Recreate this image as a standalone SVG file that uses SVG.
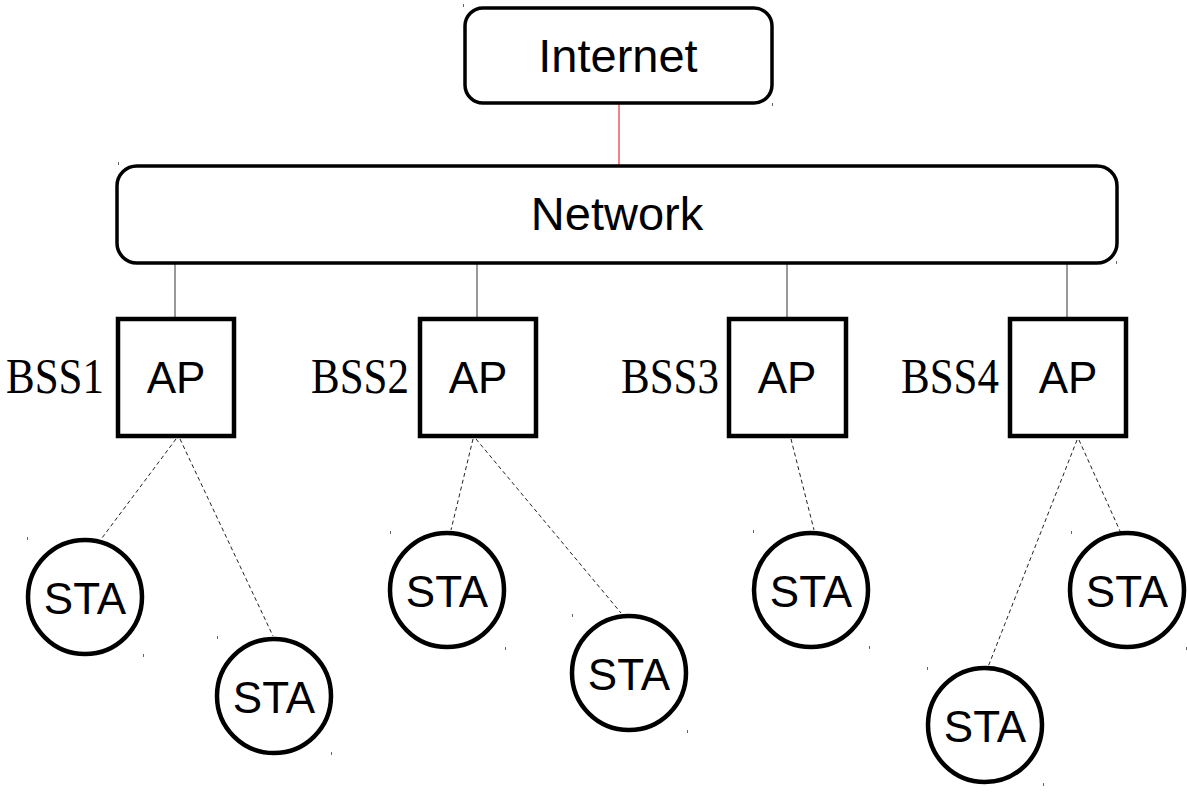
<svg xmlns="http://www.w3.org/2000/svg" width="1187" height="793" viewBox="0 0 1187 793">
<style>
.box{fill:#fff;stroke:#000;stroke-width:3.5}
.ap{fill:#fff;stroke:#000;stroke-width:4.5}
.sta{fill:#fff;stroke:#000;stroke-width:4.5}
.lbl{font-family:"Liberation Sans",Arial,sans-serif;font-size:44px;fill:#000;text-anchor:middle}
.big{font-size:47px}
.bss{font-family:"Liberation Serif","Times New Roman",serif;font-size:51px;fill:#000;text-anchor:end}
.wire{stroke:#555;stroke-width:1.2;fill:none}
.dash{stroke:#222;stroke-width:1;stroke-dasharray:4 3;fill:none}
.tick{stroke:#666;stroke-width:1}
</style>
<rect width="1187" height="793" fill="#fff"/>
<g id="connectors">
<line x1="619" y1="103" x2="619" y2="165" stroke="#e8323c" stroke-width="1.2"/>
<line class="wire" x1="175" y1="263" x2="175" y2="318"/>
<line class="wire" x1="477" y1="263" x2="477" y2="318"/>
<line class="wire" x1="787" y1="263" x2="787" y2="318"/>
<line class="wire" x1="1067" y1="263" x2="1067" y2="318"/>
<line class="dash" x1="176" y1="439" x2="102" y2="538"/>
<line class="dash" x1="180" y1="439" x2="273" y2="636"/>
<line class="dash" x1="473" y1="439" x2="451" y2="530"/>
<line class="dash" x1="476" y1="439" x2="621" y2="613"/>
<line class="dash" x1="791" y1="439" x2="814" y2="530"/>
<line class="dash" x1="1077" y1="440" x2="988" y2="667"/>
<line class="dash" x1="1079" y1="440" x2="1120" y2="531"/>
</g>
<g id="internet">
<rect class="box" x="465" y="8" width="307" height="95" rx="18"/>
<text class="lbl big" x="618" y="72">Internet</text>
</g>
<g id="network">
<rect class="box" x="117" y="166" width="1000" height="97" rx="20"/>
<text class="lbl big" x="617" y="230">Network</text>
</g>
<g id="ap1">
<rect class="ap" x="118" y="319" width="116" height="117"/>
<text class="lbl" x="176" y="393">AP</text>
<text class="bss" x="104" y="393" textLength="98" lengthAdjust="spacingAndGlyphs">BSS1</text>
</g>
<g id="ap2">
<rect class="ap" x="420" y="319" width="116" height="117"/>
<text class="lbl" x="478" y="393">AP</text>
<text class="bss" x="409" y="393" textLength="98" lengthAdjust="spacingAndGlyphs">BSS2</text>
</g>
<g id="ap3">
<rect class="ap" x="729" y="319" width="117" height="117"/>
<text class="lbl" x="787" y="393">AP</text>
<text class="bss" x="719" y="393" textLength="98" lengthAdjust="spacingAndGlyphs">BSS3</text>
</g>
<g id="ap4">
<rect class="ap" x="1010" y="319" width="116" height="117"/>
<text class="lbl" x="1068" y="393">AP</text>
<text class="bss" x="999" y="393" textLength="98" lengthAdjust="spacingAndGlyphs">BSS4</text>
</g>
<g id="sta1"><circle class="sta" cx="85" cy="597" r="57"/><text class="lbl" x="85" y="614">STA</text></g>
<g id="sta2"><circle class="sta" cx="274" cy="696" r="57"/><text class="lbl" x="274" y="713">STA</text></g>
<g id="sta3"><circle class="sta" cx="447" cy="590" r="57"/><text class="lbl" x="447" y="607">STA</text></g>
<g id="sta4"><circle class="sta" cx="629" cy="673" r="57"/><text class="lbl" x="629" y="690">STA</text></g>
<g id="sta5"><circle class="sta" cx="811" cy="590" r="57"/><text class="lbl" x="811" y="607">STA</text></g>
<g id="sta6"><circle class="sta" cx="985" cy="725" r="57"/><text class="lbl" x="985" y="742">STA</text></g>
<g id="sta7"><circle class="sta" cx="1127" cy="590" r="57"/><text class="lbl" x="1127" y="607">STA</text></g>
<g id="ticks" class="tick">
<line x1="463.5" y1="4" x2="463.5" y2="7"/><line x1="772.5" y1="103" x2="772.5" y2="106"/>
<line x1="118.5" y1="162" x2="118.5" y2="165"/><line x1="1116.5" y1="261" x2="1116.5" y2="264"/>
<line x1="27.5" y1="537" x2="27.5" y2="540"/><line x1="143.5" y1="654" x2="143.5" y2="657"/>
<line x1="217.5" y1="636" x2="217.5" y2="639"/><line x1="331.5" y1="752" x2="331.5" y2="755"/>
<line x1="390.5" y1="531" x2="390.5" y2="534"/><line x1="505.5" y1="647" x2="505.5" y2="650"/>
<line x1="572.5" y1="614" x2="572.5" y2="617"/><line x1="687.5" y1="730" x2="687.5" y2="733"/>
<line x1="753.5" y1="530" x2="753.5" y2="533"/><line x1="869.5" y1="646" x2="869.5" y2="649"/>
<line x1="927.5" y1="667" x2="927.5" y2="670"/><line x1="1043.5" y1="783" x2="1043.5" y2="786"/>
<line x1="1071.5" y1="531" x2="1071.5" y2="534"/><line x1="1186.5" y1="647" x2="1186.5" y2="650"/>
</g>
</svg>
